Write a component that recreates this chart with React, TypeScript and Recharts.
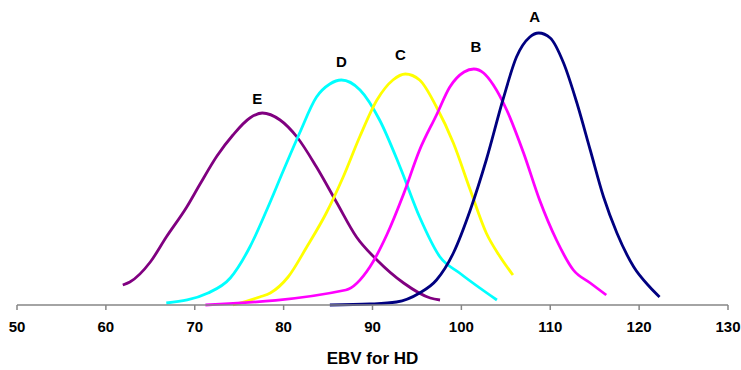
import { LineChart, Line, XAxis, YAxis, LabelList } from 'recharts'

const X_TICKS = [50, 60, 70, 80, 90, 100, 110, 120, 130]

// curve A
const A_X = [85.2, 89.7, 92.7, 95.3, 97.2, 99.1, 101.0, 102.8, 104.7, 106.2, 107.7, 108.7, 110.0, 111.5, 113.0, 114.5, 116.0, 117.5, 119.4, 121.2, 122.3]
const A_Y = [0.0, 0.1, 0.3, 1.2, 2.5, 5.2, 9.5, 14.5, 20.6, 24.8, 26.8, 27.2, 26.7, 24.2, 20.2, 15.5, 10.8, 7.2, 3.8, 1.8, 0.8]

// curve B
const B_X = [71.2, 87.0, 89.7, 91.6, 93.5, 95.3, 97.2, 98.7, 100.3, 101.4, 102.5, 103.6, 105.1, 107.0, 108.8, 110.7, 112.6, 114.5, 116.3]
const B_Y = [0.0, 1.5, 3.8, 7.0, 11.1, 15.5, 19.0, 21.8, 23.3, 23.6, 23.2, 22.0, 19.5, 15.2, 10.5, 6.5, 3.5, 2.2, 1.0]

// curve C
const C_X = [74.3, 77.3, 78.5, 80.5, 82.6, 84.8, 86.7, 88.6, 90.5, 92.3, 93.7, 95.3, 97.2, 99.1, 101.0, 102.8, 104.3, 105.8]
const C_Y = [0.0, 0.8, 1.2, 2.8, 5.8, 9.2, 12.8, 16.9, 20.5, 22.5, 23.1, 22.5, 19.8, 16.2, 11.5, 7.2, 4.9, 3.0]

// curve D
const D_X = [66.8, 71.5, 74.0, 76.2, 78.1, 80.0, 81.8, 83.7, 85.2, 86.5, 88.6, 90.8, 93.1, 95.3, 97.6, 99.8, 104.0]
const D_Y = [0.2, 1.2, 2.7, 5.8, 9.5, 13.5, 17.2, 20.8, 22.1, 22.5, 21.5, 18.5, 13.8, 8.8, 4.8, 3.2, 0.5]

// curve E
const E_X = [61.9, 62.7, 65.0, 66.8, 69.1, 70.6, 72.5, 74.3, 76.2, 77.6, 79.6, 81.5, 83.7, 86.0, 88.2, 90.5, 93.5, 96.5, 97.6]
const E_Y = [2.0, 2.3, 4.3, 6.8, 9.8, 12.1, 14.9, 17.0, 18.7, 19.2, 18.5, 16.8, 13.8, 10.2, 6.8, 4.5, 2.2, 0.7, 0.5]

const FONT = '"Liberation Sans", Arial, sans-serif'

const SERIES = [
  { name: 'E', xs: E_X, ys: E_Y, color: '#800080', dx: -5, dy: -9 },
  { name: 'D', xs: D_X, ys: D_Y, color: '#00FFFF', dx: 0, dy: -13 },
  { name: 'C', xs: C_X, ys: C_Y, color: '#FFFF00', dx: -5, dy: -14 },
  { name: 'B', xs: B_X, ys: B_Y, color: '#FF00FF', dx: 2, dy: -17 },
  { name: 'A', xs: A_X, ys: A_Y, color: '#000080', dx: -4, dy: -11 },
]

function toPoints(xs: number[], ys: number[]) {
  return xs.map((x, i) => ({ x, y: ys[i] }))
}

export default function App() {
  return (
    <div style={{ position: 'absolute', left: 0, top: 0, background: '#fff' }}>
      <LineChart width={741} height={370} margin={{ top: 5, right: 13, left: 17, bottom: 0 }}>
        <XAxis
          type="number"
          dataKey="x"
          domain={[50, 130]}
          ticks={X_TICKS}
          allowDataOverflow
          stroke="#868686"
          strokeWidth={1.5}
          tickSize={5}
          tickMargin={11}
          height={65}
          tick={{ fill: '#000', fontSize: 15, fontWeight: 'bold', fontFamily: FONT }}
          label={{
            value: 'EBV for HD',
            position: 'insideBottom',
            offset: 6,
            fill: '#000',
            fontSize: 17,
            fontWeight: 'bold',
            fontFamily: FONT,
          }}
        />
        <YAxis hide type="number" domain={[0, 30]} />
        {SERIES.map((s) => {
          const peak = s.ys.indexOf(Math.max(...s.ys))
          return (
            <Line
              key={s.name}
              data={toPoints(s.xs, s.ys)}
              dataKey="y"
              type="monotone"
              stroke={s.color}
              strokeWidth={2.8}
              dot={false}
              activeDot={false}
              isAnimationActive={false}
            >
              <LabelList
                dataKey="y"
                content={(p: any) =>
                  p.index === peak ? (
                    <text
                      x={Number(p.x) + s.dx}
                      y={Number(p.y) + s.dy}
                      textAnchor="middle"
                      fill="#000"
                      fontSize={15}
                      fontWeight="bold"
                      fontFamily={FONT}
                    >
                      {s.name}
                    </text>
                  ) : (
                    <g />
                  )
                }
              />
            </Line>
          )
        })}
      </LineChart>
    </div>
  )
}
